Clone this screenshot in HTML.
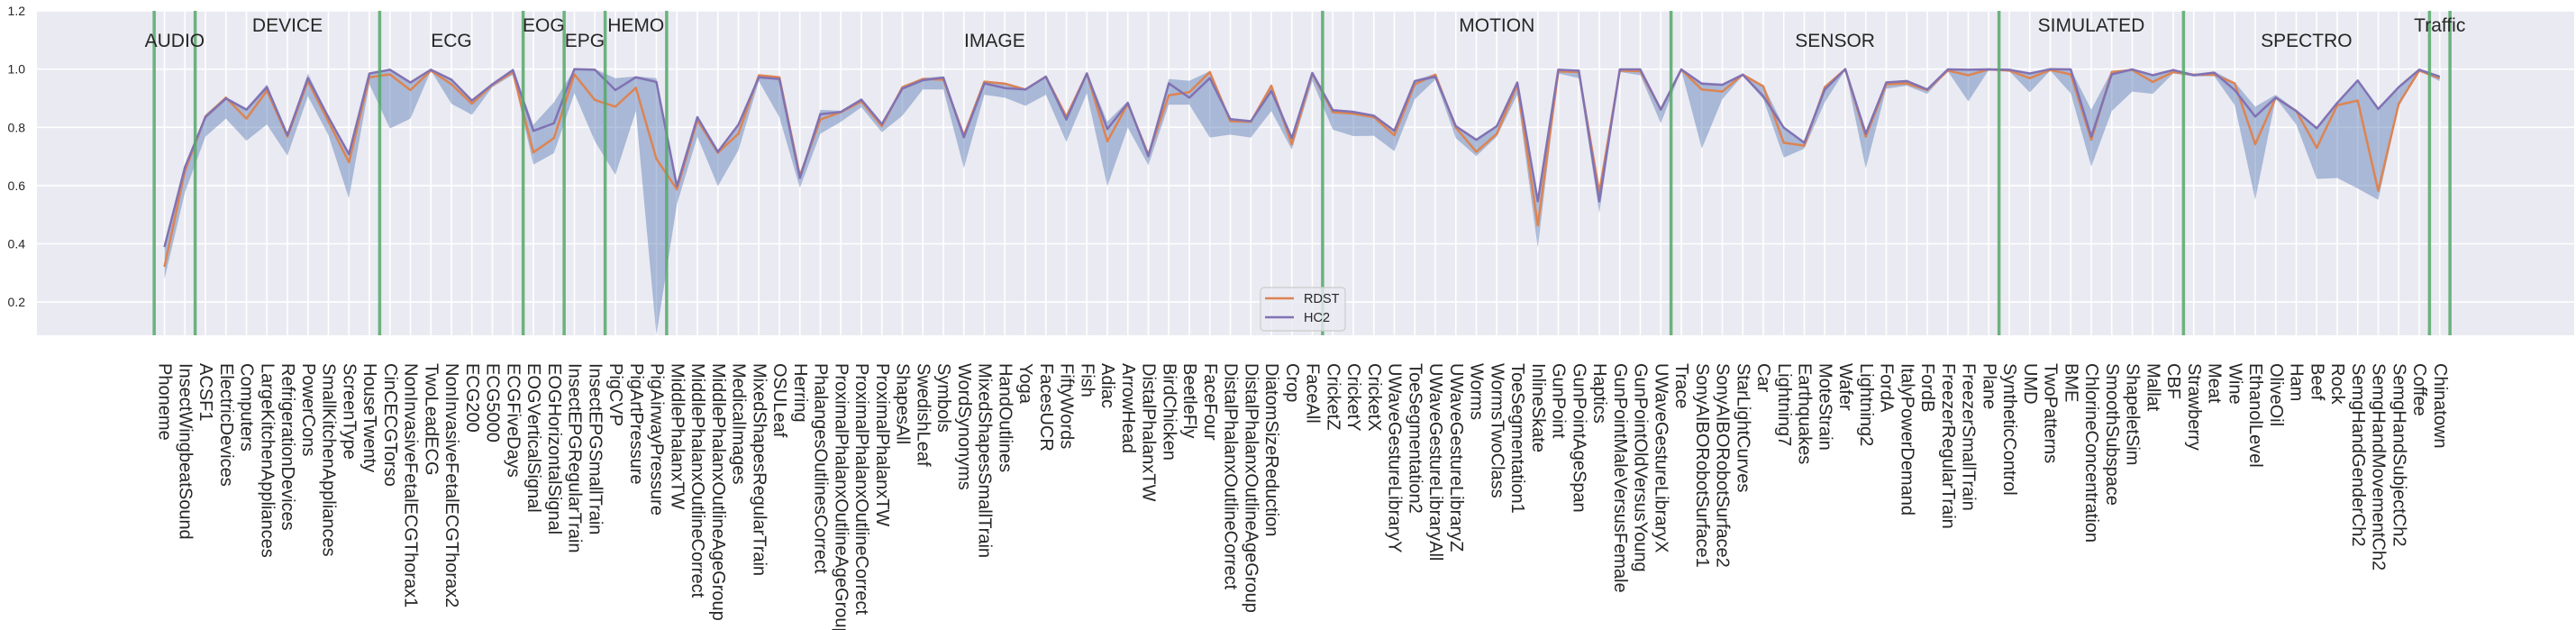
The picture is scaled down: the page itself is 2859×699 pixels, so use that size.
<!DOCTYPE html>
<html><head><meta charset="utf-8">
<style>
html,body{margin:0;padding:0;background:#fff;}
svg{display:block;font-family:"Liberation Sans",Arial,sans-serif;}
</style></head>
<body>
<svg id="chart" width="2859" height="699" viewBox="0 0 2859 699" xmlns="http://www.w3.org/2000/svg">
<rect x="41" y="12" width="2816" height="360" fill="#eaeaf2"/>
<g id="grid"></g>
<g id="band"></g>
<g id="lines"></g>
<g id="groups"></g>
<g id="yticks"></g>
<g id="xticks"></g>
<g>
<rect x="1399" y="319" width="94" height="48" rx="4" fill="#eaeaf2" fill-opacity="0.8" stroke="#cccccc" stroke-width="1.2"/>
<line x1="1404" y1="331" x2="1436" y2="331" stroke="#dd8452" stroke-width="2.5"/>
<text x="1447" y="336" font-size="14.5" fill="#262626">RDST</text>
<line x1="1404" y1="352" x2="1436" y2="352" stroke="#8172b3" stroke-width="2.5"/>
<text x="1447" y="357" font-size="14.5" fill="#262626">HC2</text>
</g>
</svg>
<script>
const categories=["Phoneme","InsectWingbeatSound","ACSF1","ElectricDevices","Computers","LargeKitchenAppliances","RefrigerationDevices","PowerCons","SmallKitchenAppliances","ScreenType","HouseTwenty","CinCECGTorso","NonInvasiveFetalECGThorax1","TwoLeadECG","NonInvasiveFetalECGThorax2","ECG200","ECG5000","ECGFiveDays","EOGVerticalSignal","EOGHorizontalSignal","InsectEPGRegularTrain","InsectEPGSmallTrain","PigCVP","PigArtPressure","PigAirwayPressure","MiddlePhalanxTW","MiddlePhalanxOutlineCorrect","MiddlePhalanxOutlineAgeGroup","MedicalImages","MixedShapesRegularTrain","OSULeaf","Herring","PhalangesOutlinesCorrect","ProximalPhalanxOutlineAgeGroup","ProximalPhalanxOutlineCorrect","ProximalPhalanxTW","ShapesAll","SwedishLeaf","Symbols","WordSynonyms","MixedShapesSmallTrain","HandOutlines","Yoga","FacesUCR","FiftyWords","Fish","Adiac","ArrowHead","DistalPhalanxTW","BirdChicken","BeetleFly","FaceFour","DistalPhalanxOutlineCorrect","DistalPhalanxOutlineAgeGroup","DiatomSizeReduction","Crop","FaceAll","CricketZ","CricketY","CricketX","UWaveGestureLibraryY","ToeSegmentation2","UWaveGestureLibraryAll","UWaveGestureLibraryZ","Worms","WormsTwoClass","ToeSegmentation1","InlineSkate","GunPoint","GunPointAgeSpan","Haptics","GunPointMaleVersusFemale","GunPointOldVersusYoung","UWaveGestureLibraryX","Trace","SonyAIBORobotSurface1","SonyAIBORobotSurface2","StarLightCurves","Car","Lightning7","Earthquakes","MoteStrain","Wafer","Lightning2","FordA","ItalyPowerDemand","FordB","FreezerRegularTrain","FreezerSmallTrain","Plane","SyntheticControl","UMD","TwoPatterns","BME","ChlorineConcentration","SmoothSubspace","ShapeletSim","Mallat","CBF","Strawberry","Meat","Wine","EthanolLevel","OliveOil","Ham","Beef","Rock","SemgHandGenderCh2","SemgHandMovementCh2","SemgHandSubjectCh2","Coffee","Chinatown"];
const hc2=[.389,.663,.835,.899,.861,.938,.773,.969,.835,.708,.985,.998,.954,.998,.964,.892,.948,.997,.788,.814,1.0,.998,.928,.972,.956,.598,.835,.716,.809,.972,.966,.626,.845,.853,.895,.811,.933,.962,.971,.766,.951,.935,.93,.974,.827,.985,.794,.884,.701,.951,.902,.969,.828,.821,.925,.763,.987,.859,.853,.84,.788,.959,.974,.804,.757,.804,.954,.546,.998,.995,.546,.999,.999,.861,.999,.95,.946,.981,.907,.799,.747,.93,1.0,.778,.954,.959,.93,.999,.998,.999,.998,.985,1.0,.999,.768,.982,.999,.979,.997,.979,.988,.928,.837,.902,.856,.797,.884,.961,.863,.938,.998,.974];
const rdst=[.321,.65,.837,.902,.83,.926,.768,.959,.82,.68,.972,.982,.928,.995,.948,.881,.946,.99,.714,.763,.982,.894,.871,.936,.692,.587,.825,.713,.778,.979,.972,.634,.827,.852,.889,.804,.938,.966,.964,.773,.957,.95,.93,.974,.837,.985,.752,.881,.706,.91,.921,.99,.821,.819,.943,.742,.985,.852,.847,.835,.773,.948,.981,.799,.716,.778,.946,.463,.992,.99,.577,.995,.993,.861,.998,.93,.923,.981,.941,.747,.737,.938,1.0,.768,.948,.951,.928,.995,.979,.999,.995,.969,.997,.982,.757,.99,.997,.956,.99,.981,.981,.951,.742,.902,.856,.73,.876,.892,.582,.881,.995,.969];
const bandLow=[.278,.577,.768,.83,.754,.81,.703,.907,.773,.556,.948,.796,.83,.995,.881,.843,.938,.981,.672,.711,.917,.752,.637,.856,.087,.536,.768,.598,.721,.959,.835,.592,.778,.819,.869,.783,.84,.93,.93,.66,.912,.902,.874,.912,.75,.917,.598,.799,.67,.878,.878,.765,.775,.765,.856,.723,.959,.792,.77,.771,.718,.897,.964,.763,.701,.768,.912,.386,.985,.969,.505,.99,.979,.814,.997,.727,.897,.978,.897,.696,.727,.886,.997,.659,.933,.943,.915,.993,.889,.997,.993,.92,.995,.917,.665,.856,.923,.915,.985,.975,.976,.876,.551,.9,.81,.623,.626,.59,.551,.871,.993,.959];
const bandHigh=[.392,.668,.845,.905,.865,.948,.778,.985,.84,.712,.988,1.0,.958,1.0,.968,.896,.952,1.0,.809,.886,1.0,1.0,.969,.975,.969,.6,.84,.72,.813,.982,.975,.638,.86,.857,.9,.815,.942,.97,.975,.777,.96,.954,.934,.978,.84,.99,.82,.89,.71,.966,.96,.993,.832,.825,.947,.767,.99,.863,.857,.844,.792,.963,.984,.808,.762,.808,.958,.55,1.0,.998,.58,1.0,1.0,.865,1.0,.955,.95,.985,.945,.803,.751,.942,1.0,.782,.958,.963,.934,1.0,1.0,1.0,1.0,.989,1.0,1.0,.861,.994,1.0,.983,1.0,.984,.992,.955,.871,.912,.86,.801,.888,.965,.87,.942,1.0,.978];
const groupNames=["AUDIO","DEVICE","ECG","EOG","EPG","HEMO","IMAGE","MOTION","SENSOR","SIMULATED","SPECTRO","Traffic"];
const groupStarts=[0,2,11,18,20,22,25,57,74,90,99,111];
const yTicks=[0.2,0.4,0.6,0.8,1.0,1.2];
const yTickLabels=["0.2","0.4","0.6","0.8","1.0","1.2"];

const NS="http://www.w3.org/2000/svg";
const X=i=>182.5+22.75*i;
const Y=v=>76.7-(v-1)*323;
const PL=41,PR=2857,PT=12,PB=372;
function mk(tag,attrs,parent){const e=document.createElementNS(NS,tag);for(const k in attrs)e.setAttribute(k,attrs[k]);parent.appendChild(e);return e;}
const grid=document.getElementById('grid');
yTicks.forEach((t,k)=>{
  const l=mk('line',{x1:PL,x2:PR,y1:Y(t),y2:Y(t),stroke:'#fff','stroke-width':1.6},grid);
  
  
  const tx=mk('text',{x:28,y:Y(t)+5,'text-anchor':'end','font-size':14,fill:'#262626'},document.getElementById('yticks'));
  
  
  tx.textContent=yTickLabels[k];
});
const xt=document.getElementById('xticks');
categories.forEach((c,i)=>{
  const l=mk('line',{x1:X(i),x2:X(i),y1:PT,y2:PB,stroke:'#fff','stroke-width':1.6},grid);
  
  
  const t=mk('text',{x:0,y:0,transform:`translate(${X(i)},403) rotate(90)`,'dominant-baseline':'central','font-size':20,fill:'#262626'},xt);
  
  
  t.textContent=c;
});
// band
let pts=[];
for(let i=0;i<categories.length;i++)pts.push(X(i)+','+Y(bandHigh[i]));
for(let i=categories.length-1;i>=0;i--)pts.push(X(i)+','+Y(bandLow[i]));
const poly=mk('polygon',{points:pts.join(' '),fill:'#4c72b0','fill-opacity':0.42},document.getElementById('band'));


function line(arr,color,name){
  const p=mk('polyline',{points:arr.map((v,i)=>X(i)+','+Y(v)).join(' '),fill:'none',stroke:color,'stroke-width':2.5,'stroke-linejoin':'round'},document.getElementById('lines'));
  
  
}
line(rdst,'#dd8452','rdst-line');
line(hc2,'#8172b3','hc2-line');
const gg=document.getElementById('groups');
const bounds=groupStarts.concat([categories.length]);
bounds.forEach(b=>{
  const l=mk('line',{x1:X(b-0.5),x2:X(b-0.5),y1:PT,y2:PB,stroke:'#55a868','stroke-width':3.5,'stroke-opacity':0.85},gg);
  
  
});
groupNames.forEach((g,k)=>{
  const s=groupStarts[k],e=bounds[k+1]-1;
  const t=mk('text',{x:X((s+e)/2),y:(k%2===0)?52:35,'text-anchor':'middle','font-size':21,fill:'#262626'},gg);
  
  
  t.textContent=g;
});
</script>
</body></html>
